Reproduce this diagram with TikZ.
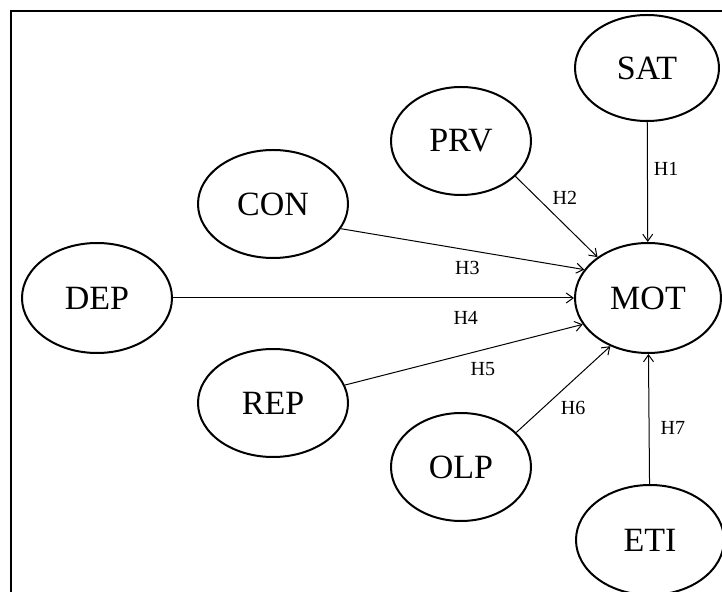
\documentclass[tikz,border=0pt]{standalone}
\usepackage{fontspec}
\setmainfont{Liberation Serif}
\usetikzlibrary{shapes.geometric,arrows.meta,positioning}

\tikzset{
  var/.style={ellipse, draw, line width=1pt, minimum width=74pt, minimum height=54pt,
    inner sep=0pt, font=\fontsize{17}{20}\selectfont},
  link/.style={-{Straight Barb[length=3.5pt,width=5pt]}, line width=0.5pt},
  hyp/.style={font=\fontsize{10}{11}\selectfont, inner sep=2pt}
}

\begin{document}
\begin{tikzpicture}[x=0.5pt,y=-0.5pt]
  \useasboundingbox (0,0) rectangle (722,592);
  \draw[line width=1pt] (11,592) |- (722,11);

  \node (sat) [var, minimum width=72pt, minimum height=53pt] at (647,68) {SAT};
  \node (prv) [var, minimum width=70pt] at (461,141) {PRV};
  \node (con) [var, minimum width=75pt] at (273,204) {CON};
  \node (dep) [var, minimum width=75pt, minimum height=55pt] at (97,298) {DEP};
  \node (mot) [var, minimum width=73pt, minimum height=55pt] at (648,298) {MOT};
  \node (rep) [var, minimum width=75pt] at (273,403) {REP};
  \node (olp) [var, minimum width=70pt] at (461,467) {OLP};
  \node (eti) [var, minimum height=55pt] at (650,540) {ETI};

  \draw[link] (sat) -- node[hyp, pos=0.39, right=1pt] {H1} (mot);
  \draw[link] (prv.-33) -- node[hyp, pos=0.4, above right=0pt] {H2} (mot.141);
  \draw[link] (con.-20) -- node[hyp, pos=0.52, below=3.5pt] {H3} (mot.156);
  \draw[link] (dep) -- node[hyp, pos=0.73, below=4.5pt] {H4} (mot);
  \draw[link] (rep.14) -- node[hyp, pos=0.58, below=4pt] {H5} (mot.202);
  \draw[link] (olp.32) -- node[hyp, pos=0.42, below right=0.5pt] {H6} (mot.232);
  \draw[link] (eti) -- node[hyp, pos=0.43, right=3.5pt] {H7} (mot);
\end{tikzpicture}
\end{document}
